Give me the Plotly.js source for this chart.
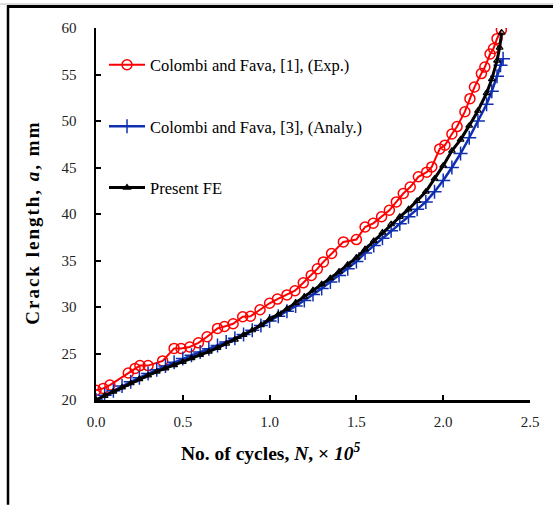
<!DOCTYPE html>
<html>
<head>
<meta charset="utf-8">
<script src="https://cdn.plot.ly/plotly-3.0.1.min.js"></script>
<style>
html,body{margin:0;padding:0;background:#fff;}
#chart{width:553px;height:505px;}
.annotation[data-index="0"] text{letter-spacing:2px;}
</style>
</head>
<body>
<div id="chart"></div>
<script>
// Colombi and Fava, [1], (Exp.)
const expN = [0, 0.042, 0.08, 0.186, 0.225, 0.253, 0.30, 0.384, 0.45, 0.49, 0.54, 0.59, 0.64, 0.70, 0.74, 0.79, 0.845, 0.89, 0.945, 1.0, 1.045, 1.10, 1.146, 1.194, 1.24, 1.275, 1.31, 1.357, 1.425, 1.50, 1.55, 1.597, 1.645, 1.69, 1.73, 1.77, 1.81, 1.857, 1.905, 1.934, 1.98, 2.01, 2.05, 2.08, 2.125, 2.154, 2.18, 2.22, 2.24, 2.27, 2.29, 2.31, 2.335];
const expA = [21.05, 21.25, 21.6, 22.9, 23.4, 23.7, 23.7, 24.2, 25.55, 25.55, 25.7, 26.15, 26.8, 27.7, 27.9, 28.2, 28.95, 29.0, 29.7, 30.4, 30.85, 31.3, 31.75, 32.6, 33.4, 34.1, 34.85, 35.75, 37.0, 37.25, 38.6, 39.0, 39.7, 40.4, 41.3, 42.2, 42.9, 44.0, 44.5, 45.06, 47.0, 47.4, 48.6, 49.4, 51.0, 52.4, 53.65, 55.1, 55.8, 57.2, 57.8, 58.85, 59.8];

// Colombi and Fava, [3], (Analy.)
const anaN = [0, 0.05, 0.1, 0.15, 0.2, 0.25, 0.3, 0.35, 0.4, 0.45, 0.5, 0.55, 0.6, 0.65, 0.7, 0.75, 0.8, 0.85, 0.9, 0.95, 1.0, 1.05, 1.1, 1.15, 1.2, 1.25, 1.3, 1.35, 1.4, 1.45, 1.5, 1.55, 1.6, 1.65, 1.7, 1.75, 1.8, 1.85, 1.9, 1.95, 2.0, 2.05, 2.1, 2.15, 2.2, 2.25, 2.28, 2.31, 2.33, 2.345];
const anaA = [20.0, 20.5, 21.0, 21.5, 21.95, 22.4, 22.85, 23.25, 23.65, 24.05, 24.45, 24.8, 25.15, 25.5, 25.85, 26.25, 26.65, 27.05, 27.5, 28.0, 28.5, 29.0, 29.55, 30.1, 30.7, 31.35, 32.0, 32.7, 33.4, 34.1, 34.9, 35.8, 36.6, 37.4, 38.2, 38.95, 39.7, 40.5, 41.3, 42.4, 43.6, 45.0, 46.5, 48.2, 50.0, 51.8, 53.2, 54.8, 56.0, 56.7];

// Present FE
const feN = [0, 0.05, 0.1, 0.15, 0.2, 0.25, 0.3, 0.35, 0.4, 0.45, 0.5, 0.55, 0.6, 0.65, 0.7, 0.75, 0.8, 0.85, 0.9, 0.95, 1.0, 1.05, 1.1, 1.15, 1.2, 1.25, 1.3, 1.35, 1.4, 1.45, 1.5, 1.55, 1.6, 1.65, 1.7, 1.75, 1.8, 1.85, 1.9, 1.95, 2.0, 2.05, 2.1, 2.15, 2.2, 2.25, 2.28, 2.31, 2.325, 2.337];
const feA = [20.0, 20.45, 20.9, 21.35, 21.8, 22.25, 22.65, 23.05, 23.4, 23.75, 24.1, 24.5, 24.85, 25.2, 25.6, 26.05, 26.5, 27.0, 27.5, 28.05, 28.7, 29.2, 29.8, 30.45, 31.1, 31.8, 32.45, 33.1, 33.8, 34.55, 35.3, 36.2, 37.1, 38.0, 38.9, 39.7, 40.5, 41.4, 42.4, 43.8, 45.2, 46.8, 48.0, 49.5, 51.1, 53.0, 54.5, 56.5, 57.9, 59.5];

const names = ['Colombi and Fava, [1], (Exp.)', 'Colombi and Fava, [3], (Analy.)', 'Present FE'];
const xTicks = [0, 0.5, 1.0, 1.5, 2.0, 2.5];
const yTicks = [20, 25, 30, 35, 40, 45, 50, 55, 60];

const serif = 'Liberation Serif';

const traces = [
  {x: expN, y: expA, name: names[0], mode: 'lines+markers', legendgroup: 'a',
   line: {color: '#ff0000', width: 2},
   marker: {symbol: 'circle-open', size: 10, color: '#ff0000', line: {width: 1.5, color: '#ff0000'}}},
  {x: anaN, y: anaA, name: names[1], mode: 'lines+markers', legendgroup: 'b',
   line: {color: '#0f2fb0', width: 2.5},
   marker: {symbol: 'cross-thin', size: 10, color: '#0f2fb0', line: {width: 1.5, color: '#0f2fb0'}}},
  {x: feN, y: feA, name: names[2], mode: 'lines+markers', legendgroup: 'c',
   line: {color: '#000000', width: 3},
   marker: {symbol: 'triangle-up-open', size: 6, color: '#000000', line: {width: 1.2, color: '#000000'}}}
];

const px2x = p => (p - 96) / 434;
const py2y = p => (400 - p) / 372.5;

const layout = {
  width: 553, height: 505,
  margin: {l: 96, r: 23, t: 27.5, b: 105, pad: 0},
  paper_bgcolor: '#ffffff', plot_bgcolor: '#ffffff',
  showlegend: true,
  legend: {x: px2x(104), y: py2y(47), xanchor: 'left', yanchor: 'top',
    bgcolor: 'rgba(0,0,0,0)', traceorder: 'grouped', tracegroupgap: 37, itemwidth: 36,
    font: {family: serif, size: 16.5, color: '#000'}},
  xaxis: {range: [0, 2.5], tickvals: xTicks, ticktext: xTicks.map(v => v.toFixed(1)),
    showline: true, linecolor: '#000', linewidth: 2.5, showgrid: false, zeroline: false,
    ticks: 'inside', ticklen: 5, tickwidth: 2, tickcolor: '#000',
    tickfont: {family: serif, size: 15, color: '#222'}, ticklabelstandoff: 6},
  yaxis: {range: [20, 60], tickvals: yTicks,
    showline: true, linecolor: '#000', linewidth: 2.5, showgrid: false, zeroline: false,
    ticks: 'inside', ticklen: 5, tickwidth: 2, tickcolor: '#000',
    tickfont: {family: serif, size: 15, color: '#222'}, ticklabelstandoff: 14},
  annotations: [
    {xref: 'paper', yref: 'paper', x: px2x(20), y: py2y(223), textangle: -90, showarrow: false,
     text: '<b>Crack length, <i>a</i>, mm</b>', font: {family: serif, size: 19, color: '#000'}},
    {xref: 'paper', yref: 'paper', x: px2x(271), y: py2y(466), showarrow: false,
     text: '<b>No. of cycles, <i>N</i>, × <i>10</i><sup><i>5</i></sup></b>', font: {family: serif, size: 19.5, color: '#000'}}
  ],
  shapes: [
    {type: 'line', xref: 'paper', yref: 'paper', x0: px2x(8), x1: px2x(8), y0: py2y(5), y1: py2y(505), line: {color: '#000', width: 2.5}},
    {type: 'line', xref: 'paper', yref: 'paper', x0: px2x(7), x1: px2x(553), y0: py2y(6), y1: py2y(6), line: {color: '#000', width: 3}},
    {type: 'line', xref: 'paper', yref: 'paper', x0: px2x(0), x1: px2x(553), y0: py2y(3.5), y1: py2y(3.5), line: {color: '#bbb', width: 1}}
  ]
};

Plotly.newPlot('chart', traces, layout, {displayModeBar: false, staticPlot: true});
</script>
</body>
</html>
